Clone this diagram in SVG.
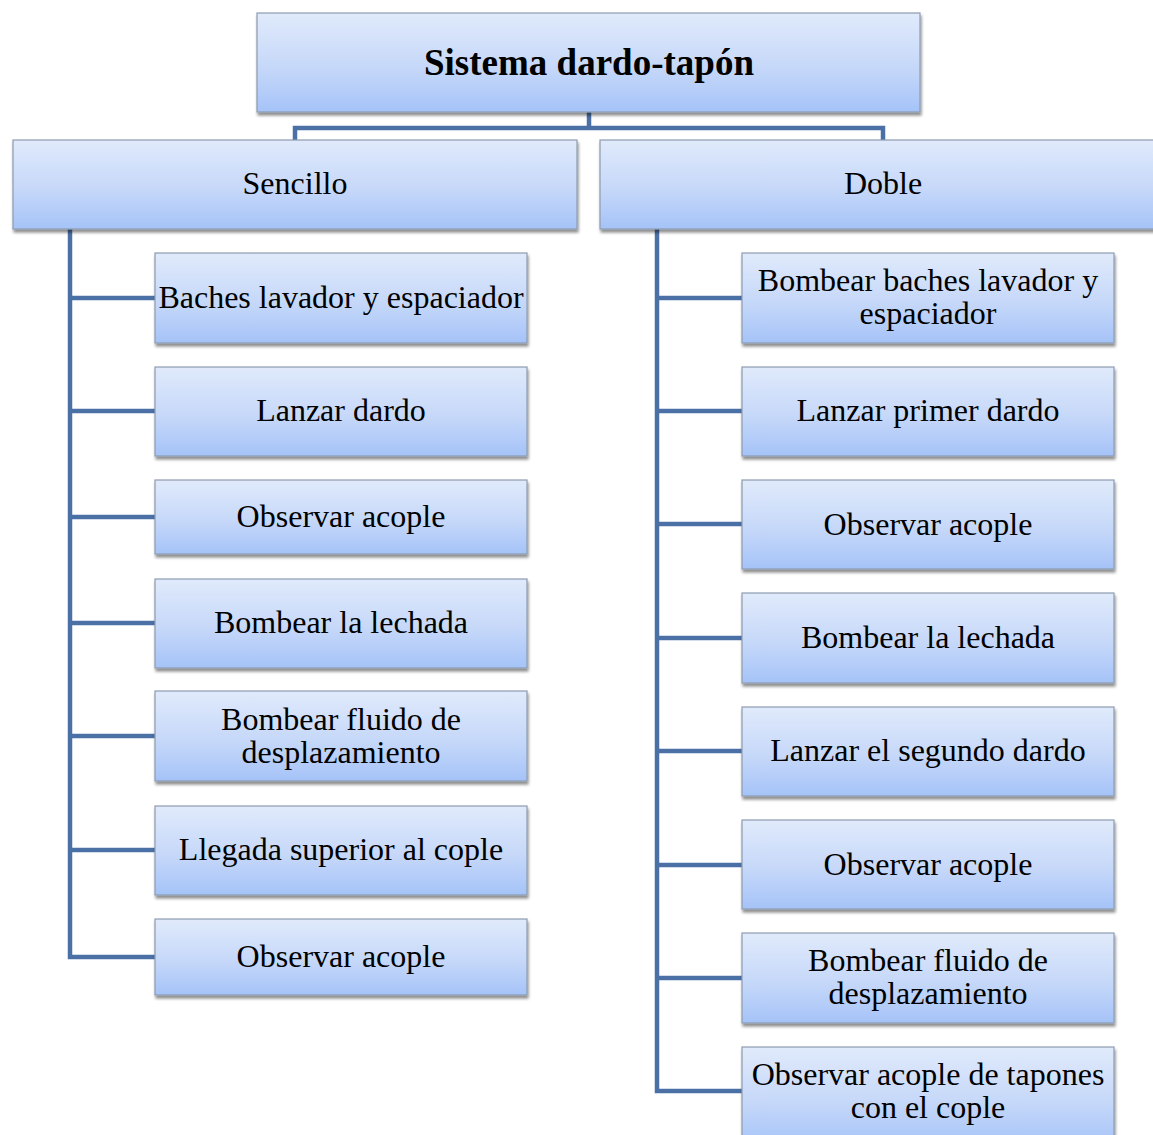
<svg xmlns="http://www.w3.org/2000/svg" width="1153" height="1135" viewBox="0 0 1153 1135">
<defs>
<linearGradient id="g" x1="0" y1="0" x2="0" y2="1">
<stop offset="0" stop-color="#e0eafb"/>
<stop offset="0.55" stop-color="#c6d8f9"/>
<stop offset="1" stop-color="#a5c3f8"/>
</linearGradient>
<filter id="sh" x="-5%" y="-10%" width="110%" height="130%">
<feGaussianBlur in="SourceAlpha" stdDeviation="1.5"/>
<feOffset dx="1" dy="3" result="o"/>
<feComponentTransfer><feFuncA type="linear" slope="0.45"/></feComponentTransfer>
<feMerge><feMergeNode/><feMergeNode in="SourceGraphic"/></feMerge>
</filter>
</defs>
<style>
.b{fill:url(#g);stroke:#8d9cb0;stroke-width:1.2;filter:url(#sh)}
.t{font-family:"Liberation Serif","Times New Roman",serif;font-size:32px;fill:#000;text-anchor:middle}
.h{font-weight:bold;font-size:37px}
.c{fill:none;stroke:#4a70a6;stroke-width:4.5}
</style>
<rect width="1153" height="1135" fill="#fff"/>
<g id="connectors">
<path class="c" d="M589 112V128M295 140V128H883V140"/>
<path class="c" d="M70 229V957H155M70 298H155M70 411H155M70 517H155M70 623H155M70 736H155M70 850H155"/>
<path class="c" d="M657 229V1091H742M657 298H742M657 411H742M657 524H742M657 638H742M657 751H742M657 865H742M657 978H742"/>
</g>
<g id="root"><rect class="b" x="257" y="13" width="663" height="99"/><text class="t h" x="589" y="75">Sistema dardo-tapón</text></g>
<g id="sencillo"><rect class="b" x="13" y="140" width="564" height="89"/><text class="t" x="295" y="194">Sencillo</text></g>
<g id="doble"><rect class="b" x="600" y="140" width="560" height="89"/><text class="t" x="883" y="194">Doble</text></g>

<g id="s1"><rect class="b" x="155" y="253" width="372" height="90"/><text class="t" x="341" y="308">Baches lavador y espaciador</text></g>
<g id="s2"><rect class="b" x="155" y="367" width="372" height="89"/><text class="t" x="341" y="421">Lanzar dardo</text></g>
<g id="s3"><rect class="b" x="155" y="480" width="372" height="74"/><text class="t" x="341" y="527">Observar acople</text></g>
<g id="s4"><rect class="b" x="155" y="579" width="372" height="89"/><text class="t" x="341" y="633">Bombear la lechada</text></g>
<g id="s5"><rect class="b" x="155" y="691" width="372" height="90"/><text class="t" x="341" y="730">Bombear fluido de</text><text class="t" x="341" y="763">desplazamiento</text></g>
<g id="s6"><rect class="b" x="155" y="806" width="372" height="89"/><text class="t" x="341" y="860">Llegada superior al cople</text></g>
<g id="s7"><rect class="b" x="155" y="919" width="372" height="76"/><text class="t" x="341" y="967">Observar acople</text></g>

<g id="d1"><rect class="b" x="742" y="253" width="372" height="90"/><text class="t" x="928" y="291">Bombear baches lavador y</text><text class="t" x="928" y="324">espaciador</text></g>
<g id="d2"><rect class="b" x="742" y="367" width="372" height="89"/><text class="t" x="928" y="421">Lanzar primer dardo</text></g>
<g id="d3"><rect class="b" x="742" y="480" width="372" height="89"/><text class="t" x="928" y="535">Observar acople</text></g>
<g id="d4"><rect class="b" x="742" y="593" width="372" height="90"/><text class="t" x="928" y="648">Bombear la lechada</text></g>
<g id="d5"><rect class="b" x="742" y="707" width="372" height="89"/><text class="t" x="928" y="761">Lanzar el segundo dardo</text></g>
<g id="d6"><rect class="b" x="742" y="820" width="372" height="89"/><text class="t" x="928" y="875">Observar acople</text></g>
<g id="d7"><rect class="b" x="742" y="933" width="372" height="90"/><text class="t" x="928" y="971">Bombear fluido de</text><text class="t" x="928" y="1004">desplazamiento</text></g>
<g id="d8"><rect class="b" x="742" y="1047" width="372" height="100"/><text class="t" x="928" y="1085">Observar acople de tapones</text><text class="t" x="928" y="1118">con el cople</text></g>
</svg>
